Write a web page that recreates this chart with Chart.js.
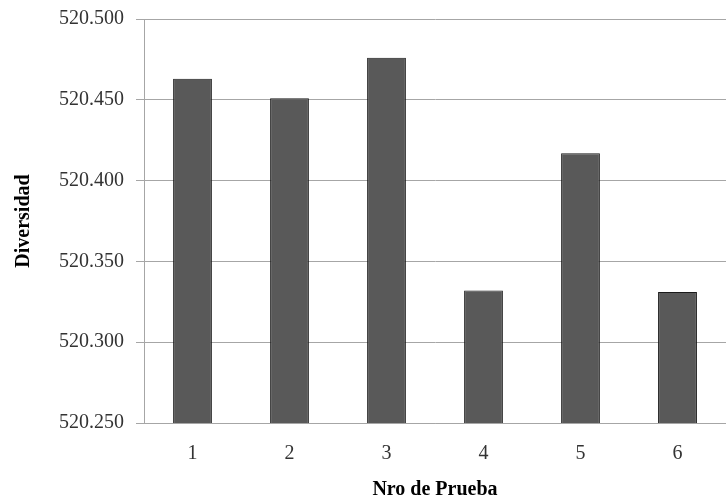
<!DOCTYPE html>
<html>
<head>
<meta charset="utf-8">
<script src="https://cdn.jsdelivr.net/npm/chart.js@4"></script>
<style>
  html, body { margin: 0; padding: 0; background: #fff; }
  #wrap { width: 726px; height: 497px; }
</style>
</head>
<body>
<div id="wrap"><canvas id="Chart" width="726" height="497"></canvas></div>
<script>
// data
const pruebas = ['1', '2', '3', '4', '5', '6'];
const diversidad = [520.463, 520.451, 520.476, 520.332, 520.417, 520.331];
const yMin = 520.25;
const yMax = 520.5;
const yStep = 0.05;

const serif = '"Liberation Serif", "DejaVu Serif", serif';

const ctx = document.getElementById('Chart').getContext('2d');

window.divChart = new Chart(ctx, {
  type: 'bar',
  data: {
    labels: pruebas,
    datasets: [{
      label: 'Diversidad',
      data: diversidad,
      backgroundColor: '#595959',
      borderColor: '#1a1a1a',
      borderWidth: 1,
      barPercentage: 0.4,
      categoryPercentage: 1.0,
    }],
  },
  options: {
    responsive: false,
    animation: false,
    layout: {
      padding: { top: 19, right: 0, bottom: 0, left: 0 },
    },
    plugins: {
      legend: { display: false },
      tooltip: { enabled: false },
    },
    scales: {
      x: {
        grid: { display: true, drawOnChartArea: false, drawTicks: false },
        border: { display: true, color: '#a6a6a6', width: 1 },
        ticks: {
          color: '#333333',
          padding: 19,
          font: { family: serif, size: 20 },
        },
        title: {
          display: true,
          text: 'Nro de Prueba',
          color: '#000000',
          font: { family: serif, size: 20, weight: 'bold' },
          padding: { top: 8, bottom: -5 },
        },
        afterFit: (scale) => { scale.height = 74; },
      },
      y: {
        min: yMin,
        max: yMax,
        grid: {
          color: '#a6a6a6',
          lineWidth: 1,
          tickLength: 8,
          drawTicks: true,
        },
        border: { display: true, color: '#a6a6a6', width: 1 },
        ticks: {
          stepSize: yStep,
          color: '#333333',
          padding: 12,
          font: { family: serif, size: 20 },
          callback: (v) => Number(v).toFixed(3),
        },
        title: {
          display: true,
          text: 'Diversidad',
          color: '#000000',
          font: { family: serif, size: 20, weight: 'bold' },
          padding: { top: 12, bottom: 0 },
        },
        afterFit: (scale) => {
          scale.width = 144;
          scale.paddingTop = 0;
          scale.paddingBottom = 0;
        },
      },
    },
  },
});
</script>
</body>
</html>
